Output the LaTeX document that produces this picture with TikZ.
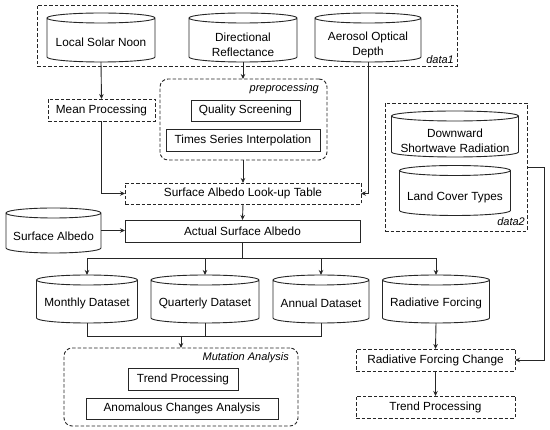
\documentclass[tikz,border=0pt]{standalone}
\usepackage{fontspec}
\setmainfont{Liberation Sans}
\usetikzlibrary{arrows.meta,calc}
\tikzset{
  ln/.style={draw=black!85, line width=0.9pt},
  arr/.style={ln, -{Stealth[length=5pt,width=4.5pt]}},
  dsh/.style={dash pattern=on 3.5pt off 2pt},
  cylnode/.style={inner sep=0pt, outer sep=0pt},
  cyltext/.style={inner sep=0pt, align=center, font=\fontsize{11.8}{13.5}\selectfont},
  boxn/.style={ln, inner sep=0pt, outer sep=0pt, align=center, font=\fontsize{11.8}{13.5}\selectfont},
  dbox/.style={boxn, dsh},
  grp/.style={ln, dsh, inner sep=0pt, outer sep=0pt},
  lab/.style={font=\fontsize{11}{12}\selectfont\itshape, inner sep=0pt},
}
% \cyl{name}{x}{y}{width}{height}{text}{text offset}
\newcommand\cyl[7]{%
  \node[cylnode, minimum width=#4pt, minimum height=#5pt] (#1) at (#2,#3) {};
  \node[cyltext] (#1-text) at (#2,#3+#7) {#6};
  \draw[ln] ([yshift=-5pt]#1.north west) -- ([yshift=5pt]#1.south west)
    arc[start angle=180,end angle=360,x radius=#4pt/2,y radius=5pt]
    -- ([yshift=-5pt]#1.north east)
    arc[start angle=0,end angle=360,x radius=#4pt/2,y radius=5pt];}
\begin{document}
\begin{tikzpicture}[x=1pt,y=-1pt]
\useasboundingbox (0,0) rectangle (550,430);
% data1 group
\node[grp, minimum width=420pt, minimum height=61pt] (data1) at (247,35.5) {};
\node[lab, anchor=east] (d1lab) at (454,60) {data1};
\cyl{lsn}{101}{37.5}{108}{49}{Local Solar Noon}{4.5}
\cyl{dr}{243}{37.5}{108}{49}{Directional\\[1.5pt]Reflectance}{7}
\cyl{aod}{368}{37.5}{106}{49}{Aerosol Optical\\[1.5pt]Depth}{7.5}
% preprocessing
\node[grp, rounded corners=8pt, minimum width=167pt, minimum height=81pt] (pre) at (243.5,119.5) {};
\node[lab, anchor=east] (prelab) at (319,89) {preprocessing};
\node[boxn, minimum width=109pt, minimum height=21pt] (qs) at (245.5,110.5) {Quality Screening};
\node[boxn, minimum width=154pt, minimum height=22pt] (tsi) at (243,140) {Times Series Interpolation};
\node[dbox, minimum width=107pt, minimum height=22pt] (mp) at (101.5,110) {Mean Processing};
\node[dbox, minimum width=236pt, minimum height=21pt] (lut) at (243,193.5) {Surface Albedo Look-up Table};
% data2 group
\node[grp, minimum width=142pt, minimum height=128pt] (data2) at (456,167) {};
\node[lab, anchor=east] (d2lab) at (525,222) {data2};
\cyl{dsr}{455}{134}{127}{46}{Downward\\[1.5pt]Shortwave Radiation}{7}
\cyl{lct}{455}{190.5}{111}{50}{Land Cover Types}{7}
% surface albedo
\cyl{sa}{53.5}{230.5}{95}{45}{Surface Albedo}{6}
\node[boxn, minimum width=235pt, minimum height=22pt] (asa) at (242.5,231) {Actual Surface Albedo};
% datasets
\cyl{md}{87}{299}{101}{48}{Monthly Dataset}{4.5}
\cyl{qd}{205}{299}{108}{48}{Quarterly Dataset}{4.5}
\cyl{ad}{321}{299}{96}{48}{Annual Dataset}{4.5}
\cyl{rf}{436}{299}{107}{48}{Radiative Forcing}{4.5}
% mutation analysis
\node[grp, rounded corners=8pt, minimum width=234pt, minimum height=78pt] (mut) at (181,387) {};
\node[lab, anchor=east] (mutlab) at (289,358) {Mutation Analysis};
\node[boxn, minimum width=110pt, minimum height=22pt] (tp1) at (183,379) {Trend Processing};
\node[boxn, minimum width=192pt, minimum height=21pt] (aca) at (182,408.5) {Anomalous Changes Analysis};
% right column
\node[dbox, minimum width=159pt, minimum height=22pt] (rfc) at (435.5,360) {Radiative Forcing Change};
\node[dbox, minimum width=159pt, minimum height=22pt] (tp2) at (435.5,407) {Trend Processing};
% connectors
\draw[arr] (lsn.south) -- (mp.north);
\draw[arr] (mp.south) |- (lut.west);
\draw[arr] (dr.south) -- (dr.south |- pre.north);
\draw[arr] (pre.south -| lut.north) -- (lut.north);
\draw[arr] (aod.south) |- (lut.east);
\draw[arr] (lut.south) -- (asa.north);
\draw[arr] (sa.east) -- (sa.east -| asa.west);
\coordinate (split) at (242.5,258);
\draw[ln] (asa.south) -- (split);
\draw[arr] (split) -| (md.north);
\draw[arr] (split) -| (qd.north);
\draw[arr] (split) -| (ad.north);
\draw[arr] (split) -| (rf.north);
\coordinate (merge) at (181,336);
\draw[ln] (md.south) |- (merge);
\draw[ln] (qd.south) |- (merge);
\draw[ln] (ad.south) |- (merge);
\draw[arr] (merge) -- (mut.north);
\draw[arr] (rf.south) -- (rfc.north);
\draw[arr] (rfc.south) -- (tp2.north);
\draw[arr] (data2.east) -- ++(17,0) |- (rfc.east);
\end{tikzpicture}
\end{document}
